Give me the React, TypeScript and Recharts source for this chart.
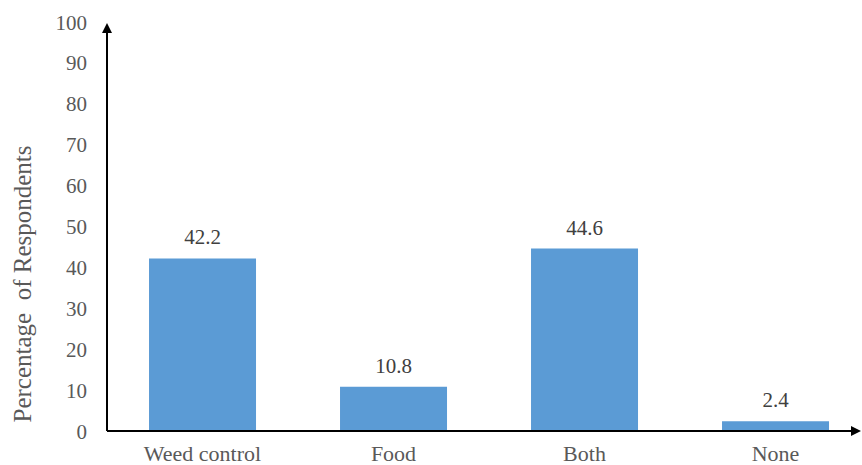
import { BarChart, Bar, XAxis, YAxis, LabelList } from 'recharts'

const categories = ['Weed control', 'Food', 'Both', 'None']
const percentages = [42.2, 10.8, 44.6, 2.4]
const yTicks = [0, 10, 20, 30, 40, 50, 60, 70, 80, 90, 100]

const data = categories.map((name, i) => ({ name, value: percentages[i] }))

const serif = '"Liberation Serif", "Times New Roman", serif'

function XTick({ x, payload }: any) {
  return (
    <text x={x} y={461} textAnchor="middle" fill="#595959" fontSize={22} fontFamily={serif}>
      {payload.value}
    </text>
  )
}

function YTick({ x, y, payload }: any) {
  return (
    <text x={x - 4} y={y} dy={7.5} textAnchor="end" fill="#595959" fontSize={21} fontFamily={serif}>
      {payload.value}
    </text>
  )
}

function ValueLabel({ x, y, width, value }: any) {
  return (
    <text x={x + width / 2} y={y - 14} textAnchor="middle" fill="#404040" fontSize={21} fontFamily={serif}>
      {value}
    </text>
  )
}

export default function App() {
  return (
    <div style={{ position: 'absolute', left: 0, top: 0, width: 862, height: 465, background: '#fff' }}>
      <BarChart
        width={862}
        height={465}
        data={data}
        margin={{ top: 22, right: -9, bottom: 0, left: 0 }}
        barCategoryGap="22%"
      >
        <XAxis dataKey="name" axisLine={false} tickLine={false} height={34} tick={<XTick />} interval={0} />
        <YAxis
          domain={[0, 100]}
          ticks={yTicks}
          axisLine={false}
          tickLine={false}
          width={107}
          tick={<YTick />}
          tickMargin={10}
        />
        <Bar dataKey="value" fill="#5B9BD5" isAnimationActive={false}>
          <LabelList dataKey="value" content={<ValueLabel />} />
        </Bar>
      </BarChart>
      <svg
        width={862}
        height={465}
        style={{ position: 'absolute', left: 0, top: 0, pointerEvents: 'none' }}
      >
        <line x1={107} y1={431} x2={107} y2={30} stroke="#000" strokeWidth={2} />
        <polygon points="107,23 102,33 112,33" fill="#000" />
        <line x1={107} y1={431} x2={852} y2={431} stroke="#000" strokeWidth={2} />
        <polygon points="861,431 851,426 851,436" fill="#000" />
        <text
          x={22}
          y={284}
          transform="rotate(-90 22 284)"
          textAnchor="middle"
          dominantBaseline="central"
          fill="#595959"
          fontSize={25}
          fontFamily={serif}
          style={{ whiteSpace: 'pre' }}
        >
          Percentage  of Respondents
        </text>
      </svg>
    </div>
  )
}
